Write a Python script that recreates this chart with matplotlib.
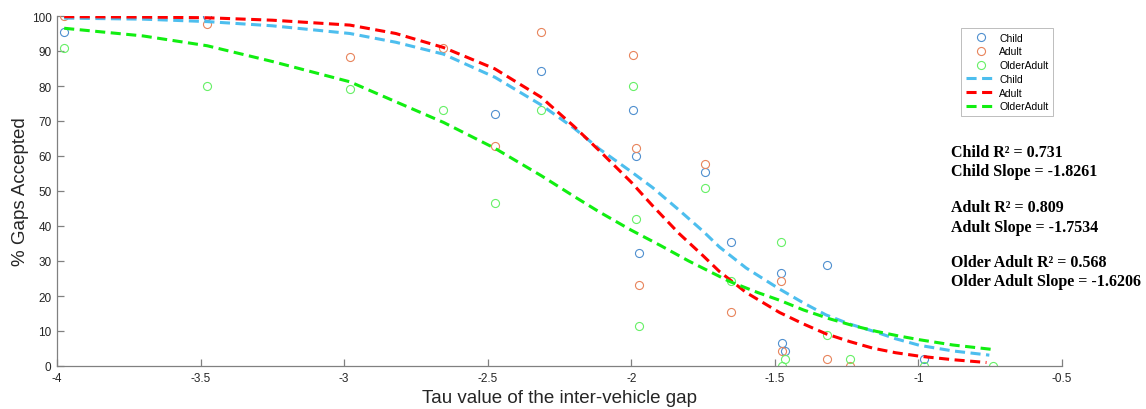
import matplotlib
matplotlib.use("Agg")
import matplotlib.pyplot as plt

child_tau = [-3.975, -3.477, -2.474, -2.314, -1.993, -1.983, -1.973, -1.742,
             -1.652, -1.480, -1.476, -1.463, -1.320, -0.980]
child_pct = [95.4, 100.0, 72.0, 84.4, 73.2, 59.9, 32.4, 55.5,
             35.4, 26.5, 6.7, 4.4, 28.8, 2.0]

adult_tau = [-3.975, -3.477, -2.980, -2.654, -2.475, -2.314, -1.993, -1.983,
             -1.973, -1.742, -1.652, -1.480, -1.475, -1.320, -1.240]
adult_pct = [100.0, 97.7, 88.3, 91.0, 62.8, 95.5, 88.9, 62.2,
             23.1, 57.7, 15.4, 24.3, 4.4, 2.1, 0.0]

older_tau = [-3.975, -3.477, -2.980, -2.654, -2.475, -2.314, -1.993, -1.983,
             -1.973, -1.742, -1.652, -1.480, -1.463, -1.476, -1.320, -1.240,
             -0.980, -0.739]
older_pct = [91.0, 80.0, 79.1, 73.2, 46.5, 73.2, 79.9, 42.1,
             11.4, 51.0, 24.3, 35.3, 2.1, 0.0, 8.8, 2.1,
             0.0, 0.0]

# --- fitted curves, sampled off the figure ---
child_fit_tau = [-3.975, -3.700, -3.477, -3.250, -2.980, -2.820, -2.654, -2.475,
                 -2.314, -2.200, -2.111, -2.000, -1.926, -1.833, -1.750, -1.693,
                 -1.600, -1.484, -1.400, -1.322, -1.240, -1.159, -1.080, -0.996,
                 -0.880, -0.753]
child_fit_pct = [99.4, 99.1, 98.4, 97.2, 95.0, 92.5, 89.1, 82.5,
                 74.6, 68.0, 62.0, 55.5, 51.0, 44.5, 38.5, 34.0,
                 28.0, 22.0, 18.0, 14.6, 12.0, 10.0, 7.8, 5.9,
                 4.3, 3.1]

adult_fit_tau = [-3.975, -3.700, -3.477, -3.250, -2.980, -2.820, -2.654, -2.475,
                 -2.314, -2.200, -2.111, -2.000, -1.926, -1.833, -1.750, -1.693,
                 -1.600, -1.484, -1.400, -1.322, -1.240, -1.159, -1.080, -0.996,
                 -0.880, -0.763]
adult_fit_pct = [99.8, 99.7, 99.5, 98.8, 97.4, 95.0, 91.0, 84.9,
                 76.8, 68.5, 61.5, 52.5, 45.8, 37.8, 31.5, 27.0,
                 21.0, 15.3, 12.0, 9.2, 7.0, 5.1, 3.8, 2.8,
                 1.8, 1.0]

older_fit_tau = [-3.975, -3.700, -3.477, -3.250, -2.980, -2.820, -2.654, -2.475,
                 -2.314, -2.200, -2.111, -2.000, -1.900, -1.800, -1.659, -1.560,
                 -1.484, -1.400, -1.310, -1.230, -1.147, -1.070, -0.996, -0.880,
                 -0.739]
older_fit_pct = [96.5, 94.3, 91.5, 87.0, 81.2, 75.5, 69.6, 62.2,
                 54.4, 48.5, 44.0, 38.8, 34.5, 30.0, 24.2, 21.0,
                 18.8, 16.0, 13.5, 11.6, 9.9, 8.6, 7.5, 6.0,
                 4.7]

stats_lines = [["Child R\u00b2 = 0.731", "Child Slope = -1.8261"],
               ["Adult R\u00b2 = 0.809", "Adult Slope = -1.7534"],
               ["Older Adult R\u00b2 = 0.568", "Older Adult Slope = -1.6206"]]

plt.rcParams["font.family"] = ["Liberation Sans", "DejaVu Sans"]

fig = plt.figure(figsize=(11.46, 4.10), dpi=100)
ax = fig.add_axes([57 / 1146, 43 / 410, 1005 / 1146, 350 / 410])

mk = dict(marker="o", linestyle="none", markersize=5.8, markerfacecolor="none",
          markeredgewidth=0.8)
ax.plot(child_tau, child_pct, color="#4F8FCF", label="Child", **mk)
ax.plot(adult_tau, adult_pct, color="#E8845C", label="Adult", **mk)
ax.plot(older_tau, older_pct, color="#66F066", label="OlderAdult", **mk)

ln = dict(linewidth=2.2, linestyle=(0, (3.3, 1.8)))
ax.plot(child_fit_tau, child_fit_pct, color="#4DBEEE", label="Child", **ln)
ax.plot(adult_fit_tau, adult_fit_pct, color="#FF0000", label="Adult", **ln)
ax.plot(older_fit_tau, older_fit_pct, color="#11EE11", label="OlderAdult", **ln)

ax.set_xlim(-4, -0.5)
ax.set_ylim(0, 100)
ax.set_xticks([-4, -3.5, -3, -2.5, -2, -1.5, -1, -0.5])
ax.set_xticklabels(["-4", "-3.5", "-3", "-2.5", "-2", "-1.5", "-1", "-0.5"])
ax.set_yticks(range(0, 101, 10))
for s in ("top", "right"):
    ax.spines[s].set_visible(False)
for s in ("left", "bottom"):
    ax.spines[s].set_color("#808080")
    ax.spines[s].set_linewidth(0.9)
ax.tick_params(direction="in", length=5, width=0.9, color="#808080",
               labelsize=8.5, labelcolor="#262626", pad=4)
ax.set_xlabel("Tau value of the inter-vehicle gap", fontsize=13.5, color="#262626",
              labelpad=4)
ax.set_ylabel("% Gaps Accepted", fontsize=13.5, color="#262626", labelpad=2)

leg = ax.legend(loc="upper left", bbox_to_anchor=(961 / 1146, 1 - 29 / 410),
                bbox_transform=fig.transFigure, fontsize=7.5, frameon=True,
                fancybox=False, edgecolor="#A0A0A0", handlelength=3.0,
                handletextpad=0.2, labelspacing=0.36, borderpad=0.45,
                borderaxespad=0)
leg.get_frame().set_linewidth(0.6)

# R^2 / slope block, bold serif
y0 = 153
for group in stats_lines:
    for line in group:
        fig.text(951 / 1146, 1 - y0 / 410, line, fontsize=11.5, fontweight="bold",
                 family=["Liberation Serif", "DejaVu Serif"], va="center",
                 ha="left", color="black")
        y0 += 19.5
    y0 += 16

fig.savefig("out.png", dpi=100)
